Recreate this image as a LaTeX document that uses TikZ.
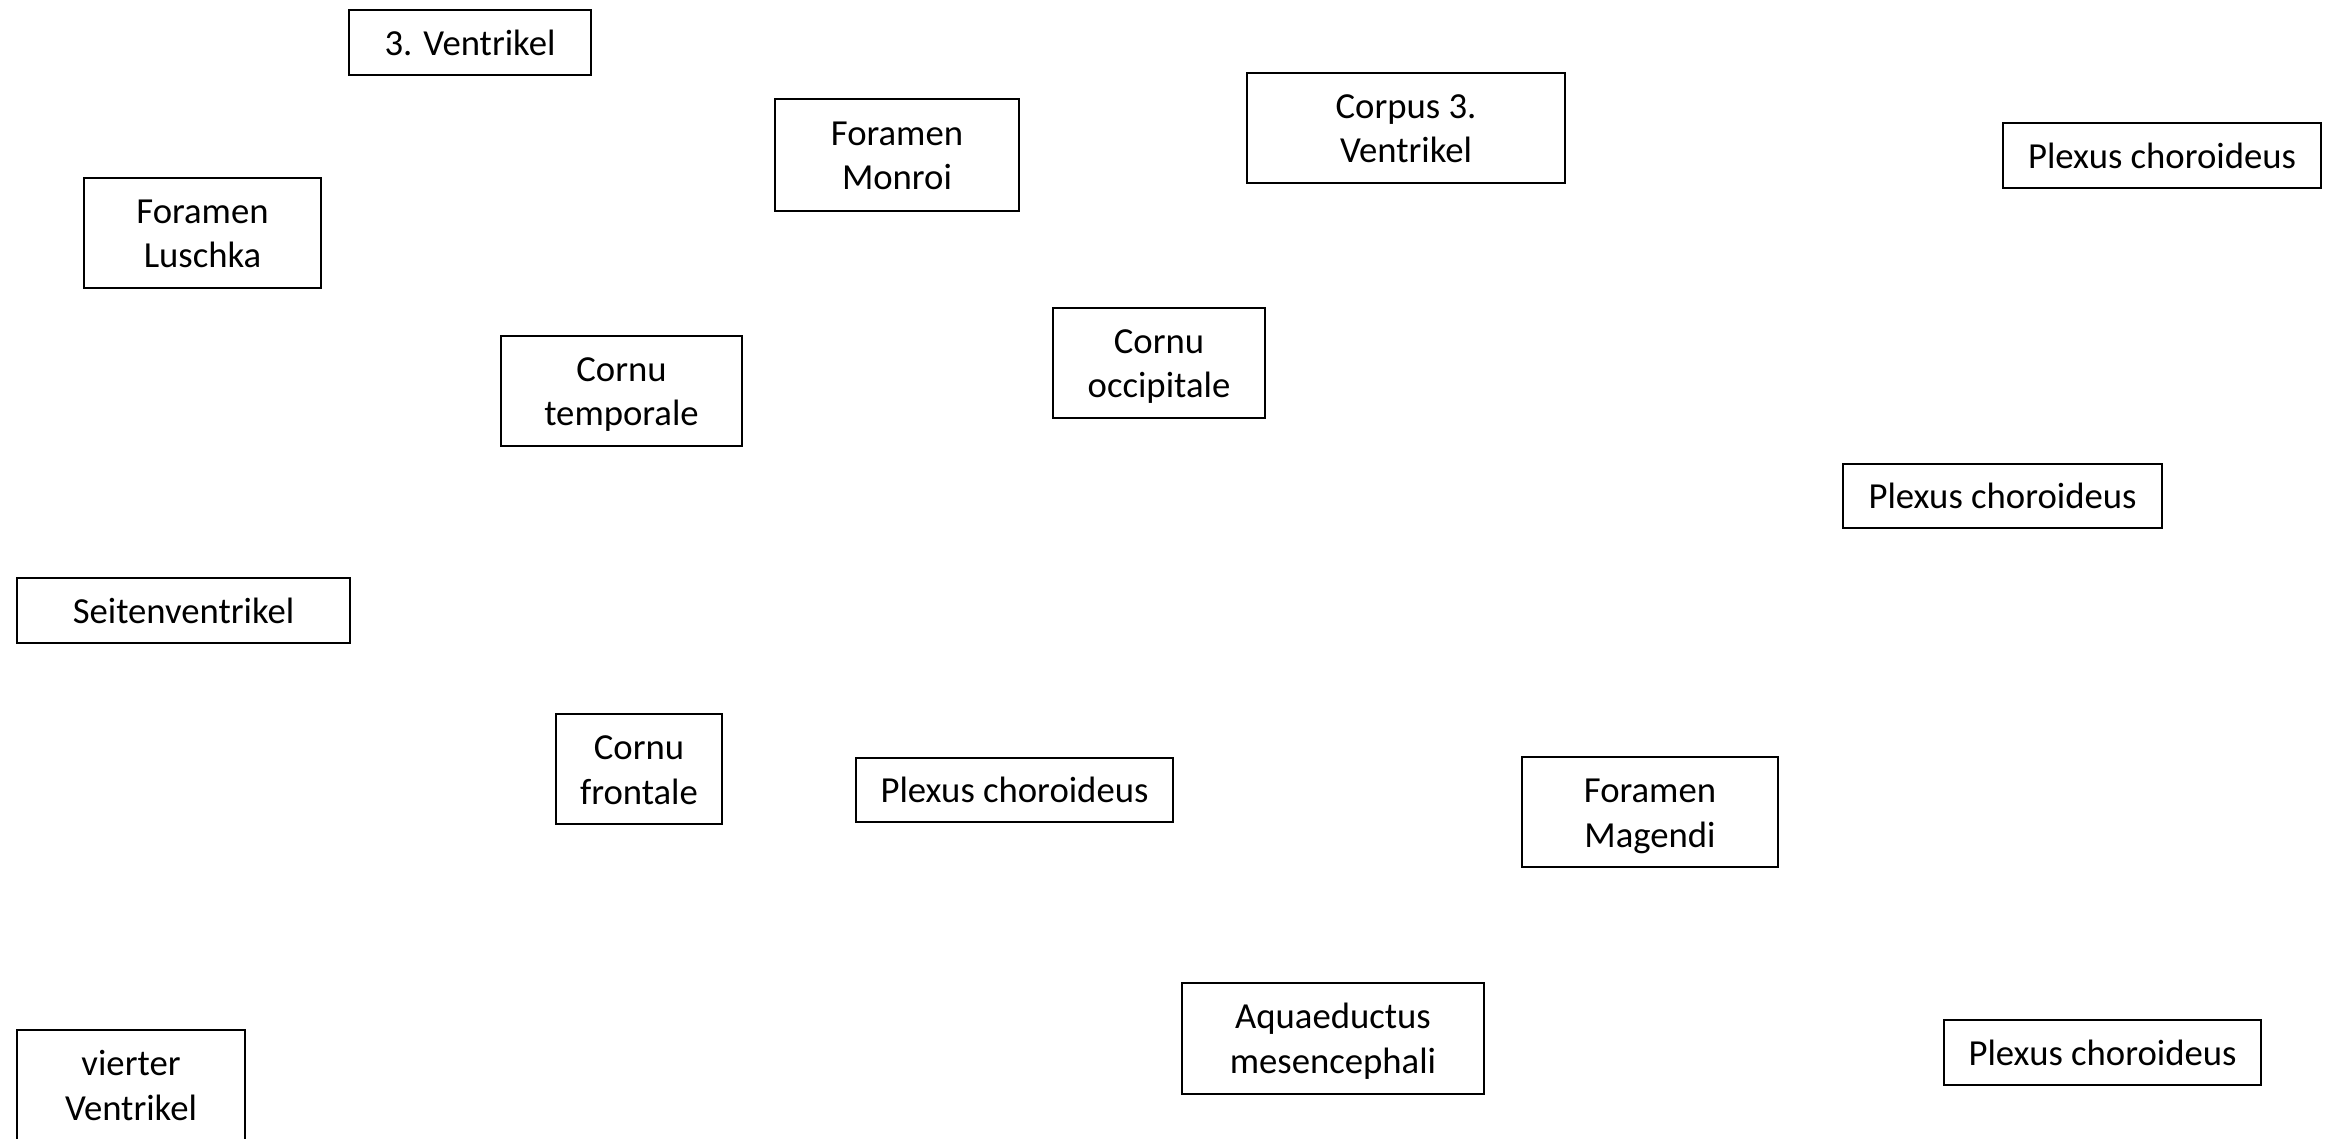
\documentclass[tikz,border=0pt]{standalone}
\usepackage{fontspec}
\setmainfont{Carlito}
\newcommand{\bxfont}{\fontsize{18.35pt}{22.4pt}\selectfont}
\newcommand{\twol}[2]{\rule{0pt}{17.6pt}#1\\#2\rule[-5pt]{0pt}{5pt}}
\tikzset{
  lbox/.style={draw=black, line width=1pt, inner sep=0pt, align=center, font=\bxfont, text=black},
}
\newcommand{\mybox}[6]{%
  \node[lbox, minimum width={(#4-#2)*0.5pt}, minimum height={(#5-#3)*0.5pt}] (#1) at ({(#2+#4)/2},{(#3+#5)/2}) {#6};%
}
\begin{document}
\begin{tikzpicture}[x=0.5pt, y=-0.5pt]
\path[use as bounding box, fill=white] (0,0) rectangle (2331,1139);
\mybox{ventr3}{349}{10}{591}{75}{3. Ventrikel}
\mybox{monroi}{775}{99}{1019}{211}{\twol{Foramen}{Monroi}}
\mybox{corpus}{1247}{73}{1565}{183}{\twol{Corpus 3.}{Ventrikel}}
\mybox{plexA}{2003}{123}{2321}{188}{Plexus choroideus}
\mybox{luschka}{84}{178}{321}{288}{\twol{Foramen}{Luschka}}
\mybox{ctemp}{501}{336}{742}{446}{\twol{Cornu}{temporale}}
\mybox{cocc}{1053}{308}{1265}{418}{\twol{Cornu}{occipitale}}
\mybox{plexB}{1843}{464}{2162}{528}{Plexus choroideus}
\mybox{seiten}{17}{578}{350}{643}{Seitenventrikel}
\mybox{cfront}{556}{714}{722}{824}{\twol{Cornu}{frontale}}
\mybox{plexC}{856}{758}{1173}{822}{Plexus choroideus}
\mybox{magendi}{1522}{757}{1778}{867}{\twol{Foramen}{Magendi}}
\mybox{aquae}{1182}{983}{1484}{1094}{\twol{Aquaeductus}{mesencephali}}
\mybox{plexD}{1944}{1020}{2261}{1085}{Plexus choroideus}
\mybox{vierter}{17}{1030}{245}{1140}{\twol{vierter}{Ventrikel}}
\end{tikzpicture}
\end{document}
